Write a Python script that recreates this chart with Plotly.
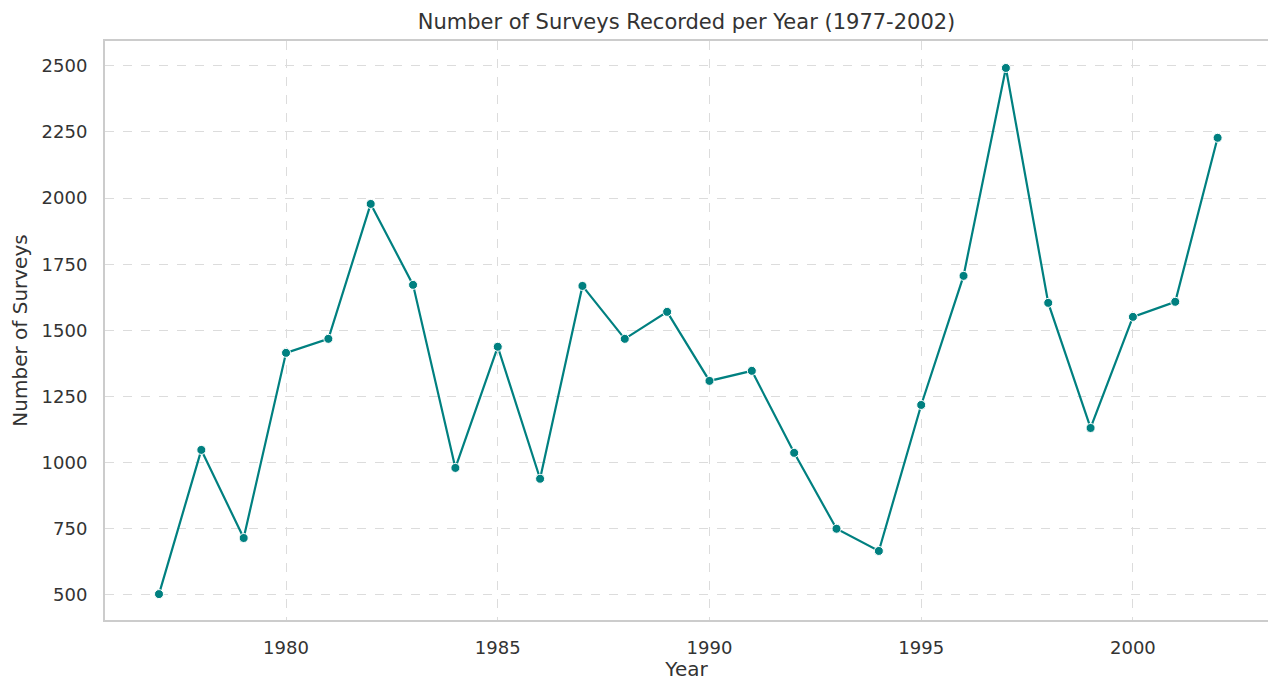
import plotly.graph_objects as go

years = list(range(1977, 2003))
surveys = [503, 1048, 715, 1415, 1468, 1978, 1672, 980, 1438, 939, 1668, 1468, 1570,
           1309, 1347, 1037, 750, 666, 1218, 1706, 2492, 1604, 1131, 1551, 1608, 2228]
y_ticks = [500, 750, 1000, 1250, 1500, 1750, 2000, 2250, 2500]
x_ticks = [1980, 1985, 1990, 1995, 2000]

FONT = "DejaVu Sans"
TXT = "#333333"
fig = go.Figure()
fig.add_trace(go.Scatter(
    x=years, y=surveys, mode="lines+markers",
    line=dict(color="#008080", width=2.2),
    marker=dict(color="#008080", size=9, line=dict(color="white", width=1)),
))

axis_common = dict(
    showgrid=True, gridcolor="#dcdcdc", griddash="dash", gridwidth=1,
    showline=True, linecolor="#cccccc", linewidth=2,
    zeroline=False, ticks="outside", tickcolor="rgba(0,0,0,0)",
    tickfont=dict(family=FONT, size=18, color=TXT), automargin=False,
)
fig.update_layout(
    width=1268, height=681,
    margin=dict(l=105, r=0, t=41, b=61),
    plot_bgcolor="white", paper_bgcolor="white",
    showlegend=False,
    title=dict(text="Number of Surveys Recorded per Year (1977-2002)",
               xref="paper", x=0.5, xanchor="center", y=1 - 22 / 681, yanchor="middle",
               font=dict(family=FONT, size=21, color=TXT)),
    xaxis=dict(range=[1975.725, 2003.19], tickvals=x_ticks, ticklen=10, mirror=True,
               title=dict(text="Year", font=dict(family=FONT, size=20, color=TXT), standoff=14),
               **axis_common),
    yaxis=dict(range=[405, 2594], tickvals=y_ticks, ticklen=12, mirror=False,
               title=dict(text="Number of Surveys", font=dict(family=FONT, size=20, color=TXT), standoff=9),
               **axis_common),
)
fig.write_html(
    "out.html",
    config={"displayModeBar": False},
    post_script="document.body.style.margin='0';document.body.style.padding='0';"
                "document.body.style.overflow='hidden';",
)
